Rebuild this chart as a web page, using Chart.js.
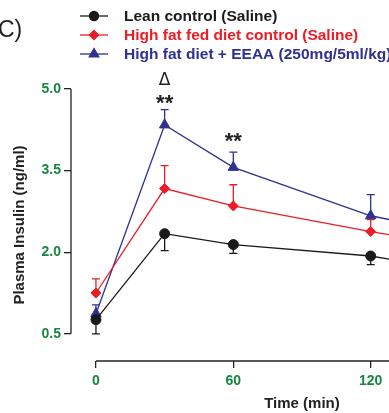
<!DOCTYPE html>
<html>
<head>
  <meta charset="utf-8" />
  <title>Plasma insulin</title>
  <script src="https://cdn.jsdelivr.net/npm/chart.js@4.4.1/dist/chart.umd.min.js"></script>
  <style>
    body { margin: 0; background: #fff; }
    #wrap { width: 389px; height: 413px; position: relative; }
  </style>
</head>
<body>
  <div id="wrap"><canvas id="insulin" width="389" height="413"></canvas></div>
  <script>
    // time points (min)
    var times = [0, 30, 60, 120, 180];
    var xTicks = [0, 60, 120];
    var yTicks = [0.5, 2.0, 3.5, 5.0];

    var leanLabel = "Lean control (Saline)";
    var leanMean = [0.76, 2.34, 2.14, 1.93, 1.50];
    var leanSem = [0.26, 0.31, 0.16, 0.16, 0.15];

    var hfdLabel = "High fat fed diet control (Saline)";
    var hfdMean = [1.25, 3.17, 2.85, 2.38, 1.95];
    var hfdSem = [0.26, 0.42, 0.39, 0.22, 0.20];

    var eeaaLabel = "High fat diet + EEAA (250mg/5ml/kg)";
    var eeaaMean = [0.87, 4.34, 3.56, 2.67, 2.15];
    var eeaaSem = [0.16, 0.28, 0.28, 0.39, 0.30];

    // significance marks: [time, level, text]
    var marks = [[30, 5.15, "\u0394"], [30, 4.80, "**"], [60, 4.10, "**"]];

    var BLACK = "#1a1a1a", RED = "#ed1c24", BLUE = "#2e3192", GREEN = "#17873f";

    function pts(means) {
      return times.map(function (t, i) { return { x: t, y: means[i] }; });
    }

    var series = [
      { label: leanLabel, mean: leanMean, sem: leanSem, dir: -1, color: BLACK, style: "circle", r: 5 },
      { label: hfdLabel, mean: hfdMean, sem: hfdSem, dir: 1, color: RED, style: "rectRot", r: 5 },
      { label: eeaaLabel, mean: eeaaMean, sem: eeaaSem, dir: 1, color: BLUE, style: "triangle", r: 6 }
    ];

    var extras = {
      id: "extras",
      beforeDatasetsDraw: function (chart) {
        var ctx = chart.ctx, xs = chart.scales.x, ys = chart.scales.y;
        ctx.save();
        ctx.beginPath();
        ctx.rect(chart.chartArea.left, 0, chart.chartArea.right - chart.chartArea.left, chart.height);
        ctx.clip();
        series.forEach(function (s) {
          ctx.strokeStyle = s.color;
          ctx.lineWidth = 1.3;
          times.forEach(function (t, i) {
            var x = xs.getPixelForValue(t);
            var y0 = ys.getPixelForValue(s.mean[i]);
            var y1 = ys.getPixelForValue(s.mean[i] + s.dir * s.sem[i]);
            ctx.beginPath();
            ctx.moveTo(x, y0); ctx.lineTo(x, y1);
            ctx.moveTo(x - 4, y1); ctx.lineTo(x + 4, y1);
            ctx.stroke();
          });
        });
        ctx.restore();
      },
      afterDraw: function (chart) {
        var ctx = chart.ctx, xs = chart.scales.x, ys = chart.scales.y, a = chart.chartArea;
        ctx.save();
        // axis lines
        ctx.strokeStyle = "#222";
        ctx.lineWidth = 1.3;
        ctx.beginPath();
        ctx.moveTo(a.left, ys.getPixelForValue(yTicks[0]));
        ctx.lineTo(a.left, ys.getPixelForValue(yTicks[yTicks.length - 1]));
        ctx.moveTo(xs.getPixelForValue(0), a.bottom);
        ctx.lineTo(a.right, a.bottom);
        ctx.stroke();

        // significance marks
        ctx.fillStyle = "#222";
        ctx.textAlign = "center";
        ctx.textBaseline = "middle";
        marks.forEach(function (m) {
          ctx.font = m[2] === "**" ? "bold 22px Arial" : "17px 'DejaVu Sans'";
          ctx.fillText(m[2], xs.getPixelForValue(m[0]), ys.getPixelForValue(m[1]) + (m[2] === "**" ? 4 : 0));
        });

        // x title
        ctx.font = "bold 15px Arial";
        ctx.fillText("Time (min)", 302, 404);

        // panel letter
        ctx.textAlign = "left";
        ctx.font = "23px Arial";
        ctx.fillText("C)", -2, 31);

        // legend
        series.forEach(function (s, i) {
          var y = 16 + i * 19;
          ctx.strokeStyle = s.color;
          ctx.lineWidth = 1.3;
          ctx.beginPath();
          ctx.moveTo(80, y); ctx.lineTo(108, y);
          ctx.stroke();
          Chart.helpers.drawPoint(ctx, { pointStyle: s.style, radius: s.r - 0.5, borderWidth: 1 }, 94, y);
          ctx.fillStyle = s.color;
          ctx.fill();
          ctx.font = "bold 15.5px Arial";
          ctx.fillStyle = s.color;
          ctx.textBaseline = "middle";
          ctx.fillText(s.label, 124, y + 1);
        });
        ctx.restore();
      }
    };

    new Chart(document.getElementById("insulin").getContext("2d"), {
      type: "line",
      data: {
        datasets: series.map(function (s) {
          return {
            label: s.label,
            data: pts(s.mean),
            borderColor: s.color,
            backgroundColor: s.color,
            borderWidth: 1.3,
            pointStyle: s.style,
            pointRadius: s.r,
            pointBorderWidth: 1,
            tension: 0
          };
        })
      },
      options: {
        responsive: false,
        animation: false,
        layout: { autoPadding: false, padding: { top: 89, left: 0, right: 0, bottom: 0 } },
        plugins: { legend: { display: false }, tooltip: { enabled: false } },
        scales: {
          x: {
            type: "linear",
            min: -10.9,
            max: 128,
            afterBuildTicks: function (scale) { scale.ticks = xTicks.map(function (v) { return { value: v }; }); },
            afterFit: function (scale) {
              scale.height = 52;
              scale.paddingLeft = 0;
              scale.paddingRight = 0;
            },
            border: { display: false },
            grid: { drawOnChartArea: false, drawTicks: true, tickLength: 7, color: "#222", lineWidth: 1.3 },
            ticks: { color: GREEN, font: { family: "Arial", size: 14, weight: "bold" }, padding: 5, maxRotation: 0 }
          },
          y: {
            min: 0,
            max: 5.0,
            afterBuildTicks: function (scale) { scale.ticks = yTicks.map(function (v) { return { value: v }; }); },
            afterFit: function (scale) {
              scale.width = 71;
              scale.paddingTop = 0;
              scale.paddingBottom = 0;
            },
            border: { display: false },
            grid: { drawOnChartArea: false, drawTicks: true, tickLength: 7, color: "#222", lineWidth: 1.3 },
            ticks: {
              color: GREEN, font: { family: "Arial", size: 14, weight: "bold" }, padding: 3,
              callback: function (v) { return Number(v).toFixed(1); }
            },
            title: {
              display: true,
              text: "Plasma Insulin (ng/ml)",
              color: "#222",
              font: { family: "Arial", size: 15, weight: "bold" },
              padding: { top: 11, bottom: 0 }
            }
          }
        }
      },
      plugins: [extras]
    });
  </script>
</body>
</html>
